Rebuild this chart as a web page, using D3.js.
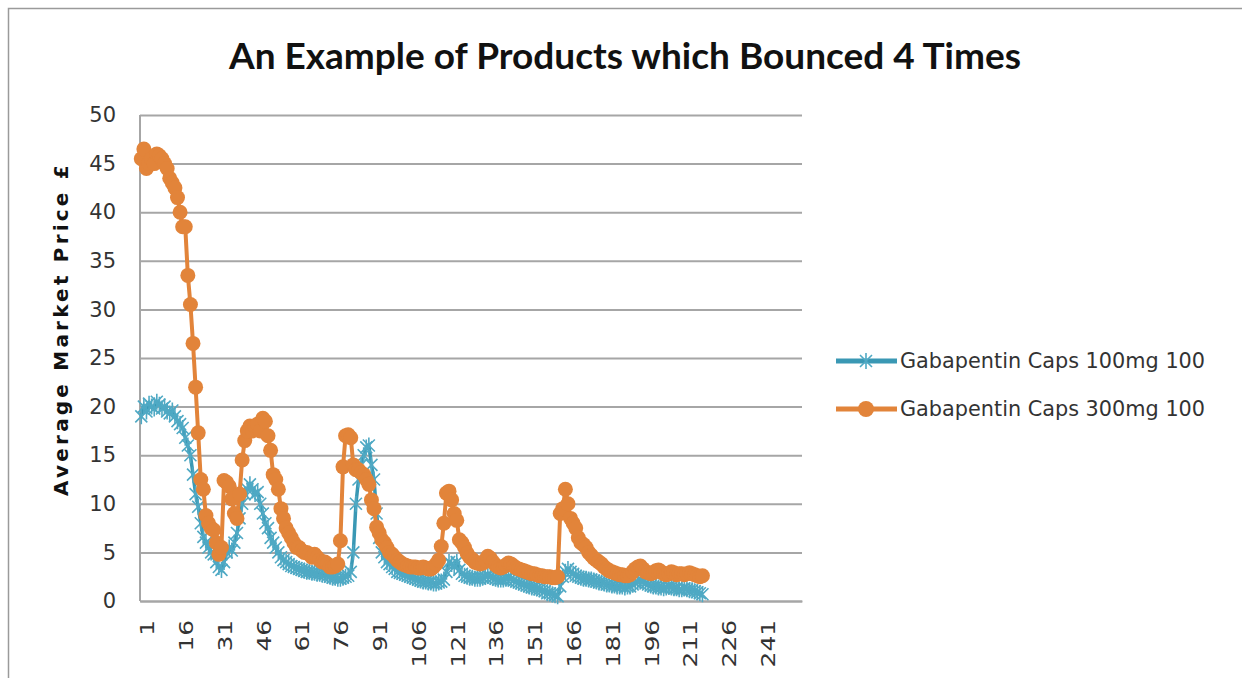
<!DOCTYPE html>
<html>
<head>
<meta charset="utf-8">
<script src="https://cdn.jsdelivr.net/npm/d3@7"></script>
<style>
  body { margin: 0; background: #fff; }
  svg { display: block; }
</style>
</head>
<body>
<svg id="canvas"></svg>
<script>
let categories = d3.range(1, 257);
let tickLabels = [1, 16, 31, 46, 61, 76, 91, 106, 121, 136, 151, 166, 181, 196, 211, 226, 241];
let yTicks = [0, 5, 10, 15, 20, 25, 30, 35, 40, 45, 50];
let seriesNames = ["Gabapentin Caps 100mg 100", "Gabapentin Caps 300mg 100"];

let caps100 = [
  19, 20, 19.5, 20.3, 20, 19.8, 20.5, 20.2, 19.8, 20,
  19.5, 19.3, 19.6, 19, 18.5, 18.2, 17.8, 16.8, 16, 15,
  13, 11, 9.7, 8, 6.6, 6, 5.5, 5, 4.8, 4,
  3.5, 3.2, 4, 5, 5.5, 5.2, 6, 7, 8.5, 10,
  11, 11.5, 12, 11.5, 11, 11.2, 10, 9, 8, 7.5,
  6.5, 6, 5.5, 5, 4.5, 4.2, 4, 3.8, 3.6, 3.5,
  3.4, 3.3, 3.2, 3.1, 3, 3, 2.9, 2.9, 2.8, 2.8,
  2.7, 2.7, 2.6, 2.5, 2.4, 2.4, 2.3, 2.3, 2.4, 2.5,
  2.6, 3, 5, 10, 12.5, 14, 15, 15.8, 16, 14,
  12.5, 9, 6.5, 5, 4.5, 4, 3.8, 3.5, 3.3, 3,
  2.9, 2.8, 2.7, 2.6, 2.5, 2.4, 2.3, 2.2, 2.1, 2,
  2, 1.9, 1.9, 1.8, 1.8, 1.9, 2, 2.2, 3, 4,
  3.8, 3.5, 4, 3.2, 2.8, 2.6, 2.5, 2.4, 2.4, 2.3,
  2.3, 2.3, 2.4, 2.5, 2.6, 2.5, 2.4, 2.3, 2.2, 2.2,
  2.2, 2.3, 2.4, 2.3, 2.1, 2, 1.9, 1.8, 1.7, 1.6,
  1.5, 1.4, 1.4, 1.3, 1.2, 1.1, 1, 0.8, 0.8, 0.7,
  0.6, 0.5, 1.5, 2.5, 3, 3.3, 3, 2.8, 2.6, 2.5,
  2.4, 2.3, 2.3, 2.2, 2.2, 2.1, 2, 1.9, 1.9, 1.8,
  1.7, 1.7, 1.6, 1.6, 1.5, 1.5, 1.5, 1.4, 1.5, 1.5,
  1.7, 1.9, 2, 2.1, 2, 1.8, 1.7, 1.6, 1.5, 1.5,
  1.4, 1.4, 1.3, 1.4, 1.5, 1.4, 1.3, 1.3, 1.2, 1.2,
  1.3, 1.2, 1.1, 1.1, 1, 0.9, 0.8, 0.7
];

let caps300 = [
  45.5, 46.5, 44.5, 45, 45.5, 45, 46, 45.8, 45.5, 45,
  44.5, 43.5, 43, 42.5, 41.5, 40, 38.5, 38.5, 33.5, 30.5,
  26.5, 22, 17.3, 12.5, 11.5, 8.8, 8, 7.5, 7.3, 6,
  4.8, 5.5, 12.4, 12.2, 11.8, 10.5, 9, 8.5, 11, 14.5,
  16.5, 17.5, 18, 17.5, 18, 18.2, 17.5, 18.8, 18.5, 17,
  15.5, 13, 12.5, 11.5, 9.5, 8.5, 7.5, 7, 6.5, 6,
  5.5, 5.5, 5.2, 5, 5, 4.8, 4.5, 4.8, 4.5, 4.2,
  4, 4, 3.8, 3.5, 3.5, 3.6, 3.8, 6.2, 13.8, 17,
  17.1, 16.8, 14, 13.5, 13.5, 13.2, 13, 12.5, 12, 10.4,
  9.5, 7.6, 7, 6.3, 6, 5.5, 5, 4.8, 4.5, 4.2,
  4, 3.8, 3.7, 3.6, 3.5, 3.5, 3.5, 3.4, 3.4, 3.5,
  3.4, 3.3, 3.3, 3.5, 3.8, 4.2, 5.6, 8, 11.1, 11.3,
  10.4, 9, 8.3, 6.3, 6, 5.5, 4.9, 4.5, 4.3, 4,
  3.9, 3.8, 3.9, 4.2, 4.6, 4.4, 4, 3.7, 3.5, 3.4,
  3.5, 3.7, 3.9, 3.8, 3.6, 3.4, 3.3, 3.2, 3.1, 3,
  2.9, 2.8, 2.8, 2.7, 2.6, 2.6, 2.5, 2.5, 2.5, 2.4,
  2.4, 2.5, 9, 9.5, 11.5, 10, 8.5, 8, 7.5, 6.5,
  6, 5.8, 5.5, 5, 4.7, 4.4, 4.2, 4, 3.8, 3.5,
  3.3, 3.1, 3, 2.9, 2.8, 2.7, 2.7, 2.6, 2.6, 2.7,
  3, 3.3, 3.5, 3.6, 3.3, 3, 2.9, 2.8, 2.9, 3.1,
  3.2, 3, 2.8, 2.7, 2.8, 3, 2.9, 2.7, 2.8, 2.8,
  2.7, 2.8, 2.9, 2.8, 2.7, 2.6, 2.5, 2.6
];

let width = 1242;
let height = 678;
let plotLeft = 140, plotRight = 802, plotTop = 115, plotBottom = 601;

let blue = "#3a98b4";
let blueMarker = "#4fa9c4";
let orange = "#e2843a";
let gridColor = "#a6a6a6";

let canvas = d3.select("#canvas");
canvas.attr("width", width).attr("height", height);

// outer frame
canvas.append("path")
      .attr("d", "M8.5," + height + "V8.5H" + width)
      .attr("fill", "none")
      .attr("stroke", "#9a9a9a")
      .attr("stroke-width", 1.5);

let xScale = d3.scaleBand()
               .domain(categories)
               .range([plotLeft, plotRight]);

let yScale = d3.scaleLinear()
               .domain([0, 50])
               .range([plotBottom, plotTop]);

let xPos = (d, i) => xScale(i + 1) + xScale.bandwidth() / 2;

// gridlines + y axis
let yAxis = d3.axisLeft(yScale)
              .tickValues(yTicks)
              .tickSize(-(plotRight - plotLeft))
              .tickPadding(24);

canvas.append("g")
      .attr("id", "y-axis")
      .attr("transform", "translate(" + plotLeft + ",0)")
      .call(yAxis)
      .call(g => g.select(".domain").remove())
      .call(g => g.selectAll(".tick line").attr("stroke", gridColor).attr("stroke-width", 2))
      .call(g => g.selectAll("text")
                  .attr("fill", "#333")
                  .style("font-family", "DejaVu Sans")
                  .style("font-size", "21px"));

canvas.append("line")
      .attr("x1", plotLeft).attr("x2", plotLeft)
      .attr("y1", plotTop).attr("y2", plotBottom)
      .attr("stroke", gridColor).attr("stroke-width", 2);

let xAxis = d3.axisBottom(xScale)
              .tickValues(tickLabels)
              .tickSize(0);

canvas.append("g")
      .attr("id", "x-axis")
      .attr("transform", "translate(0," + plotBottom + ")")
      .call(xAxis)
      .call(g => g.select(".domain").attr("stroke", gridColor).attr("stroke-width", 2))
      .call(g => g.selectAll("text")
                  .attr("transform", "rotate(-90) scale(1.25,1)")
                  .attr("text-anchor", "end")
                  .attr("x", -15)
                  .attr("y", 6)
                  .attr("dy", "0.35em")
                  .attr("fill", "#333")
                  .style("font-family", "DejaVu Sans")
                  .style("font-size", "20px"));

// series 100mg
let line = d3.line()
             .x(xPos)
             .y(d => yScale(d));

let star = "M-6,-6L6,6M-6,6L6,-6M0,-8L0,8";

canvas.append("path")
      .datum(caps100)
      .attr("d", line)
      .attr("fill", "none")
      .attr("stroke", blue)
      .attr("stroke-width", 3.5);

canvas.append("g")
      .selectAll("path")
      .data(caps100)
      .enter()
      .append("path")
      .attr("d", star)
      .attr("transform", (d, i) => "translate(" + xPos(d, i) + "," + yScale(d) + ")")
      .attr("fill", "none")
      .attr("stroke", blueMarker)
      .attr("stroke-width", 1.6);

// series 300mg
canvas.append("path")
      .datum(caps300)
      .attr("d", line)
      .attr("fill", "none")
      .attr("stroke", orange)
      .attr("stroke-width", 4);

canvas.append("g")
      .selectAll("circle")
      .data(caps300)
      .enter()
      .append("circle")
      .attr("cx", xPos)
      .attr("cy", d => yScale(d))
      .attr("r", 7.5)
      .attr("fill", orange);

// title
canvas.append("text")
      .attr("x", 625)
      .attr("y", 69)
      .attr("text-anchor", "middle")
      .style("font-family", "Lato")
      .style("font-weight", "bold")
      .style("font-size", "37px")
      .attr("fill", "#111")
      .text("An Example of Products which Bounced 4 Times");

// y axis title
canvas.append("text")
      .attr("transform", "translate(68,329) rotate(-90)")
      .attr("text-anchor", "middle")
      .style("font-family", "DejaVu Sans")
      .style("font-weight", "bold")
      .style("font-size", "20px")
      .style("letter-spacing", "3.2px")
      .attr("fill", "#111")
      .text("Average Market Price £");

// legend
let legend = canvas.append("g");
let legendY = [361, 409];

legend.selectAll("line")
      .data(seriesNames)
      .enter()
      .append("line")
      .attr("x1", 836).attr("x2", 897)
      .attr("y1", (d, i) => legendY[i]).attr("y2", (d, i) => legendY[i])
      .attr("stroke", (d, i) => i == 0 ? blue : orange)
      .attr("stroke-width", 5);

legend.append("path")
      .attr("d", star)
      .attr("transform", "translate(866," + legendY[0] + ")")
      .attr("fill", "none")
      .attr("stroke", blueMarker)
      .attr("stroke-width", 1.6);

legend.append("circle")
      .attr("cx", 866).attr("cy", legendY[1])
      .attr("r", 8)
      .attr("fill", orange);

legend.selectAll("text")
      .data(seriesNames)
      .enter()
      .append("text")
      .attr("x", 900)
      .attr("y", (d, i) => legendY[i])
      .attr("dy", "0.35em")
      .style("font-family", "DejaVu Sans")
      .style("font-size", "20.8px")
      .attr("fill", "#333")
      .text(d => d);
</script>
</body>
</html>
